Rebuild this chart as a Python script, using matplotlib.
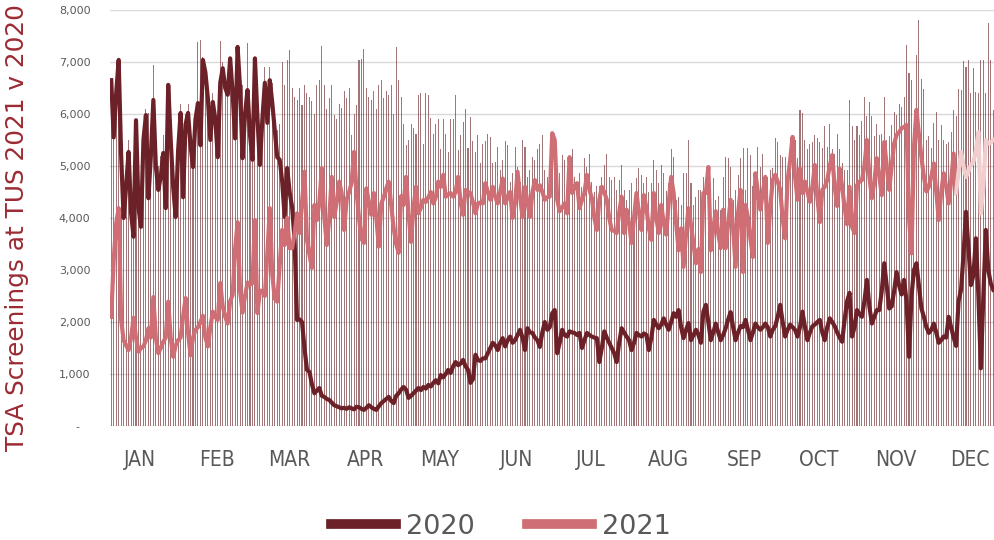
import numpy as np
import matplotlib
matplotlib.use("Agg")
from matplotlib import pyplot as plt
from matplotlib.lines import Line2D

# daily TSA screenings at TUS (index 0 = Jan 1)
y2020 = [6650, 5550, 6400, 7040, 5200, 4000, 4600, 5270, 4100, 3640,
         5880, 4200, 3830, 5500, 5980, 4380, 5200, 6270, 5000, 4540,
         4800, 5250, 4190, 6560, 5500, 4600, 4020, 5300, 6020, 4400,
         5800, 6020, 5400, 4980, 5900, 6210, 5400, 7040, 6800, 6300,
         5500, 6230, 5900, 5170, 6600, 6880, 6500, 6370, 7070, 6400,
         5530, 7290, 6500, 5150, 6000, 6460, 5600, 5120, 7070,
         5940, 5020, 5900, 6600, 5830, 6650, 6210, 5700, 5170, 5120,
         4700, 4020, 4960, 4500, 4210, 3580, 2040, 2050, 2000, 1500,
         1080, 1040, 800, 630, 680, 730, 580, 560, 520, 500,
         450, 400, 380, 360, 340, 350, 330, 360, 340, 320,
         370, 360, 330, 310, 350, 400, 360, 330, 310, 380,
         440, 480, 520, 560, 480, 440, 580, 630, 700, 750,
         700, 540, 580, 630, 680, 730, 690, 750, 720, 790,
         760, 830, 880, 820, 980, 935, 1000, 1080, 1020, 1150,
         1230, 1170, 1200, 1270, 1150, 1080, 830, 900, 1370, 1270,
         1250, 1300, 1300, 1400, 1500, 1600, 1550, 1460, 1600, 1690,
         1530, 1650, 1720, 1600, 1650, 1750, 1850, 1700, 1460, 1880,
         1800, 1790, 1700, 1650, 1520, 1800, 2000, 1850, 1900, 2170,
         2230, 1400, 1600, 1850, 1750, 1720, 1820, 1800, 1790, 1750,
         1790, 1500, 1650, 1790, 1750, 1720, 1700, 1690, 1230, 1500,
         1820, 1700, 1600, 1500, 1400, 1230, 1600, 1880, 1800, 1720,
         1650, 1460, 1600, 1790, 1750, 1720, 1780, 1750, 1460, 1700,
         2040, 1950, 1880, 1950, 2070, 1950, 1850, 2000, 2170, 2100,
         2230, 1900, 1690, 1850, 1980, 1650, 1750, 1850, 1750, 1600,
         2200, 2330, 2000, 1650, 1800, 1970, 1800, 1650, 1750, 1880,
         2050, 2190, 1900, 1650, 1800, 1920, 1900, 2040, 1850, 1650,
         1800, 1970, 1900, 1850, 1900, 1970, 1900, 1720, 1850, 1920,
         2100, 2330, 2000, 1720, 1850, 1950, 1900, 1850, 1720, 1900,
         2200, 1900, 1650, 1800, 1920, 1950, 2000, 2040, 1800, 1650,
         1900, 2070, 2000, 1920, 1800, 1700, 1620, 2040, 2400, 2560,
         1720, 1900, 2230, 2150, 2100, 2400, 2810, 2300, 1970, 2100,
         2230, 2230, 2600, 3130, 2700, 2260, 2300, 2600, 2960, 2700,
         2530, 2810, 2400, 1330, 2500, 3000, 3130, 2700, 2260, 2100,
         1900, 1790, 1850, 1970, 1800, 1600, 1650, 1720, 1700, 2100,
         1900, 1700, 1540, 2400, 2620, 3300, 4120, 3400, 2710, 2900,
         3610, 2500, 1110, 2500, 3770, 3000, 2740, 2620]

y2021 = [2100, 3200, 3900, 4190, 2040, 1650, 1550, 1460, 1700, 2080,
         1700, 1430, 1500, 1530, 1650, 1880, 1700, 2480, 1700, 1400,
         1500, 1620, 1700, 2390, 1700, 1330, 1550, 1650, 1700, 2100,
         2460, 1800, 1360, 1700, 1850, 1900, 2000, 2120, 1700, 1530,
         1900, 2200, 2100, 2040, 2750, 2300, 2100, 1970, 2400, 2520,
         3400, 3920, 2600, 2180, 2500, 2760, 2720, 2750, 3960,
         2170, 2600, 2600, 2500, 3300, 4190, 2900, 2450, 2390, 3100,
         3770, 3480, 4000, 3420, 3420, 3700, 4090, 3710, 4300, 4890,
         3580, 3300, 3040, 4250, 3960, 4300, 4960, 4020, 3480, 4000,
         4790, 4020, 4300, 4700, 4480, 3770, 4350, 4500, 4670, 5270,
         4510, 4000, 3600, 3520, 4570, 4300, 4060, 4480, 4000, 3450,
         4280, 4400, 4570, 4700, 4250, 3800, 3500, 3330, 4420, 4250,
         4790, 4090, 3540, 4200, 4600, 4090, 4200, 4350, 4310, 4400,
         4500, 4280, 4400, 4700, 4600, 4830, 4410, 4450, 4480, 4410,
         4500, 4790, 4300, 4060, 4540, 4500, 4480, 4300, 4090, 4280,
         4300, 4280, 4670, 4500, 4350, 4600, 4400, 4280, 4500, 4760,
         4280, 4400, 4500, 4000, 4300, 4890, 4400, 4020, 4600, 4300,
         4020, 4500, 4730, 4540, 4630, 4500, 4350, 4400, 4410, 5630,
         5500, 4350, 4130, 4200, 4280, 4090, 5170, 4480, 4600, 4670,
         4190, 4350, 4480, 4830, 4540, 4380, 4000, 3770, 4350, 4600,
         4500, 4350, 4000, 3770, 3750, 3710, 4100, 4410, 3710, 4160,
         3900, 3520, 4000, 4480, 4100, 3770, 4440, 4200, 3800, 3580,
         4480, 4000, 3710, 4250, 3900, 3680, 4300, 4790, 4480, 3900,
         3380, 3800, 3060, 3700, 4190, 3870, 3500, 3130, 3400, 2960,
         4480, 4480, 4980, 3380, 3800, 4130, 3700, 3420, 4160, 3420,
         3900, 4350, 3800, 3060, 4090, 4540, 2960, 4250, 4000, 3600,
         3250, 4860, 4500, 4160, 4500, 4790, 3520, 4200, 4730, 4830,
         4700, 4540, 4000, 3610, 4730, 5100, 5560, 4800, 4350, 4950,
         4480, 4700, 4500, 4310, 4600, 5020, 4400, 3920, 4540, 4600,
         4730, 5000, 5210, 4600, 4230, 4950, 4600, 4200, 3880, 4600,
         3830, 3710, 4630, 4700, 4730, 5000, 5500, 4800, 4380, 4700,
         5150, 4800, 4440, 5460, 5000, 4540, 5000, 5430, 5600, 5650,
         5730, 5750, 5790, 4000, 3320, 5370, 6080, 5600, 5170, 4800,
         4510, 4600, 4800, 5050, 4500, 3960, 4500, 4860, 4600, 4280,
         4700, 5240, 4480, 4900, 5270, 5000, 4790, 4900, 5020, 5080,
         5300, 5650, 4090, 4600, 5500, 5430, 5450, 5500]
# last days of 2021 are shown in a lighter tint
split_2021 = 341

# thin columns behind the lines
cols = [6700, 5800, 6600, 7000, 5600, 4600, 5000, 5500, 4600, 4200,
        5900, 4800, 4400, 5700, 6100, 6020, 5600, 6940, 5400, 5000,
        5200, 5600, 4700, 6600, 5900, 5000, 4500, 5600, 6200, 5000,
        6000, 6200, 5800, 5400, 6100, 7380, 7420, 7100, 6900, 6500,
        5900, 6400, 6100, 5600, 7400, 7000, 6700, 6600, 7100, 6600,
        5900, 7300, 6700, 6560, 6300, 7360, 5900, 5600, 7100,
        6300, 5600, 6200, 6900, 6300, 6900, 6600, 6100, 5700, 5800,
        7000, 6560, 7040, 7230, 6500, 6330, 6270, 6500, 6170, 6560,
        6400, 6330, 6250, 6000, 6560, 6650, 7300, 6560, 6100, 6300,
        6560, 5990, 5900, 6200, 6120, 6440, 6300, 6500, 5600, 6000,
        6170, 7040, 7060, 7250, 6500, 6330, 6270, 6440, 6100, 6560,
        6650, 6300, 6440, 6370, 6560, 6000, 7290, 6650, 6330, 5800,
        5400, 5500, 5810, 5730, 5620, 6370, 6400, 5420, 6400, 6370,
        5920, 5620, 5810, 5900, 5320, 5900, 5620, 5260, 5900, 5900,
        6370, 5300, 5600, 5850, 6100, 5340, 5950, 5480, 5260, 5600,
        5050, 5420, 5480, 5620, 5560, 5050, 5080, 5370, 4930, 5120,
        5480, 5400, 4700, 4860, 5370, 4990, 4700, 5500, 5370, 4790,
        4930, 5180, 5120, 5320, 5420, 5600, 4930, 4790, 5000, 5200,
        5000, 4700, 4860, 5210, 5120, 4700, 4900, 5320, 4790, 4700,
        4860, 4600, 5150, 4990, 5240, 4700, 4500, 4610, 4610, 4790,
        5020, 5240, 4790, 4730, 4790, 4540, 4730, 5020, 4540, 4350,
        4540, 4670, 4090, 4760, 4960, 4820, 4670, 4790, 4500, 4670,
        5120, 4930, 4670, 5020, 4860, 4510, 4670, 5320, 5180, 4350,
        4400, 4250, 4860, 4860, 5500, 4670, 4250, 4400, 4540, 4540,
        4790, 4700, 4760, 4500, 4760, 4350, 4420, 4160, 4790, 5180,
        5150, 4990, 4350, 4540, 4820, 5150, 5340, 4540, 5340, 5210,
        4610, 4860, 5370, 4990, 5240, 4790, 4790, 4930, 4960, 5530,
        5470, 5210, 5180, 5180, 4700, 5180, 5320, 5500, 5150, 6080,
        6020, 5500, 5320, 5420, 5470, 5600, 5530, 5470, 5340, 5770,
        5370, 5810, 5320, 5240, 5620, 5320, 5050, 4930, 4930, 6270,
        5770, 5500, 5770, 5600, 5870, 6330, 5960, 6230, 5960, 5570,
        5800, 5600, 5620, 6330, 5500, 5570, 5790, 6040, 5980, 6200,
        6140, 6330, 7330, 6780, 6650, 5730, 7140, 7810, 6680, 6490,
        5500, 5570, 5340, 5830, 6040, 5500, 5790, 5500, 5420, 5470,
        5650, 6080, 5960, 6490, 6460, 7020, 6910, 7040, 6400, 6880,
        6430, 6400, 7040, 7040, 6400, 7750, 7040, 6080]

months = ["JAN", "FEB", "MAR", "APR", "MAY", "JUN",
          "JUL", "AUG", "SEP", "OCT", "NOV", "DEC"]
month_days = [31, 29, 31, 30, 31, 30, 31, 31, 30, 31, 30, 31]

c2020 = "#6b2127"
c2021 = "#cf6e74"
c2021_late = "#f1cdce"
grey = "#595959"

fig = plt.figure(figsize=(9.94, 5.4), dpi=100)
ax = fig.add_axes([110 / 994, 1 - 426 / 540, 884 / 994, 416 / 540])

ax.bar(np.arange(len(cols)), cols, width=0.42, color="#7b3a41",
       alpha=0.7, linewidth=0, zorder=1)

x21 = np.arange(len(y2021))
ax.plot(np.arange(len(y2020)), y2020, color=c2020, lw=3.0,
        solid_joinstyle="round", zorder=3)
ax.plot(x21[:split_2021 + 1], y2021[:split_2021 + 1], color=c2021, lw=3.0,
        solid_joinstyle="round", zorder=4)
ax.plot(x21[split_2021:], y2021[split_2021:], color=c2021_late, lw=3.0,
        solid_joinstyle="round", zorder=4)

ax.set_xlim(-0.5, 356.3)
ax.set_ylim(0, 8000)
yt = np.arange(0, 8001, 1000)
ax.set_yticks(yt)
ax.set_yticklabels(["-   "] + [f"{v:,}" for v in yt[1:]])
ax.grid(axis="y", color="#d9d9d9", lw=1, zorder=0)
ax.set_axisbelow(True)

starts = np.cumsum([0] + month_days[:-1])
ax.set_xticks(starts + 11.7)
ax.set_xticklabels(months, family="DejaVu Sans", stretch="condensed",
                   fontsize=15, color=grey)
ax.tick_params(axis="x", length=0, pad=17)
ax.tick_params(axis="y", length=0, pad=14, labelsize=8, labelcolor=grey)
for s in ax.spines.values():
    s.set_visible(False)

fig.text(0.017, 0.578, "TSA Screenings at TUS 2021 v 2020", rotation=90,
         ha="center", va="center", fontsize=17.8, color="#9b2b33")

handles = [Line2D([], [], color=c2020, lw=7),
           Line2D([], [], color=c2021, lw=7)]
fig.legend(handles, ["2020", "2021"], loc="center",
           bbox_to_anchor=(0.504, 0.025), ncol=2, frameon=False,
           fontsize=19.5, labelcolor=grey, handlelength=2.4,
           handletextpad=0.4, columnspacing=1.9)

fig.savefig("out.png", dpi=100)
